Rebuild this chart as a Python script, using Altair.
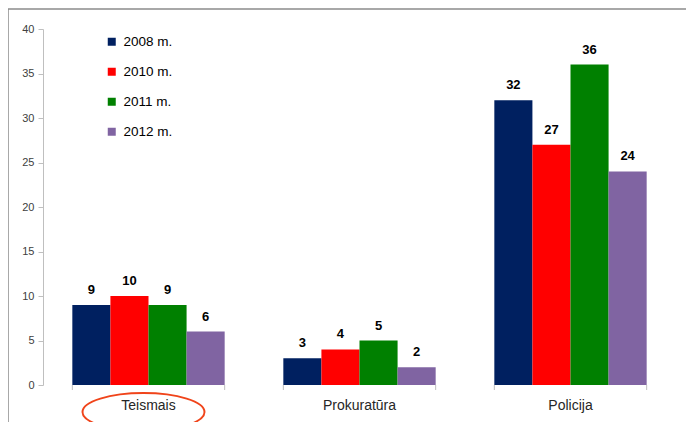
import altair as alt
import pandas as pd

categories = ["Teismais", "Prokuratūra", "Policija"]
years = ["2008 m.", "2010 m.", "2011 m.", "2012 m."]
v2008 = [9, 3, 32]
v2010 = [10, 4, 27]
v2011 = [9, 5, 36]
v2012 = [6, 2, 24]
colors = ["#002060", "#FF0000", "#008000", "#8064A2"]

rows = []
for yr, vals in zip(years, [v2008, v2010, v2011, v2012]):
    for c, v in zip(categories, vals):
        rows.append({"cat": c, "year": yr, "value": v})
df = pd.DataFrame(rows)
cat_df = pd.DataFrame({"cat": categories})
hl_df = pd.DataFrame({"cat": ["Teismais"]})

W, H = 633, 356
FONT = "Liberation Sans"

xscale = alt.Scale(domain=categories, paddingInner=0.278, paddingOuter=0.139)
x = alt.X("cat:N", scale=xscale, sort=categories,
          axis=alt.Axis(title=None, domain=False, ticks=False, labelAngle=0,
                        labelFontSize=14, labelColor="#262626", labelPadding=13,
                        labelFont=FONT))
xo = alt.XOffset("year:N", sort=years, scale=alt.Scale(paddingInner=0, paddingOuter=0))

bars = alt.Chart(df).mark_bar().encode(
    x=x,
    xOffset=xo,
    y=alt.Y("value:Q", scale=alt.Scale(domain=[0, 40], nice=False),
            axis=alt.Axis(title=None, values=list(range(0, 41, 5)), grid=False,
                          domainColor="#bfbfbf", tickColor="#bfbfbf", tickSize=5,
                          labelFontSize=11, labelColor="#404040", labelPadding=4,
                          labelFont=FONT)),
    color=alt.Color("year:N", sort=years, scale=alt.Scale(domain=years, range=colors),
                    legend=alt.Legend(title=None, orient="none", legendX=62, legendY=6,
                                      symbolType="square", symbolSize=64,
                                      symbolStrokeWidth=0, labelFontSize=13.5,
                                      labelColor="#000000", labelFont=FONT,
                                      rowPadding=15, labelOffset=5, padding=0)),
)

labels = alt.Chart(df).mark_text(baseline="bottom", dy=-8, fontSize=13,
                                 fontWeight="bold", font=FONT, color="#000000").encode(
    x=alt.X("cat:N", scale=xscale, sort=categories),
    xOffset=xo,
    y="value:Q",
    text="value:Q",
)

tick_end = alt.Chart(cat_df).mark_rule(color="#bfbfbf").encode(
    x=alt.X("cat:N", scale=xscale, sort=categories, bandPosition=1),
    y=alt.value(H), y2=alt.value(H + 5),
)
tick_start = alt.Chart(cat_df).mark_rule(color="#bfbfbf").encode(
    x=alt.X("cat:N", scale=xscale, sort=categories, bandPosition=0),
    y=alt.value(H), y2=alt.value(H + 5),
)

ellipse = alt.Chart(hl_df).mark_point(
    shape="M -1 0 A 1 0.31 0 1 0 1 0 A 1 0.31 0 1 0 -1 0 Z",
    filled=False, color="#F0441A", strokeWidth=2, size=122 * 122, xOffset=-5,
    opacity=1,
).encode(
    x=alt.X("cat:N", scale=xscale, sort=categories),
    y=alt.value(H + 27),
)

border = alt.Chart(hl_df).mark_rect(fill=None, stroke="#8c8c8c", strokeWidth=1.5,
                                    clip=False).encode(
    x=alt.value(-35), x2=alt.value(W + 200), y=alt.value(-20), y2=alt.value(H + 200),
)

chart = alt.layer(border, bars, labels, tick_start, tick_end, ellipse).properties(
    width=W, height=H,
    autosize=alt.AutoSizeParams(type="none"),
    padding={"left": 35, "top": 21, "right": 10, "bottom": 40},
    background="white",
).configure_view(stroke=None)

chart.save("out.html", embed_options={"renderer": "svg", "actions": False})
